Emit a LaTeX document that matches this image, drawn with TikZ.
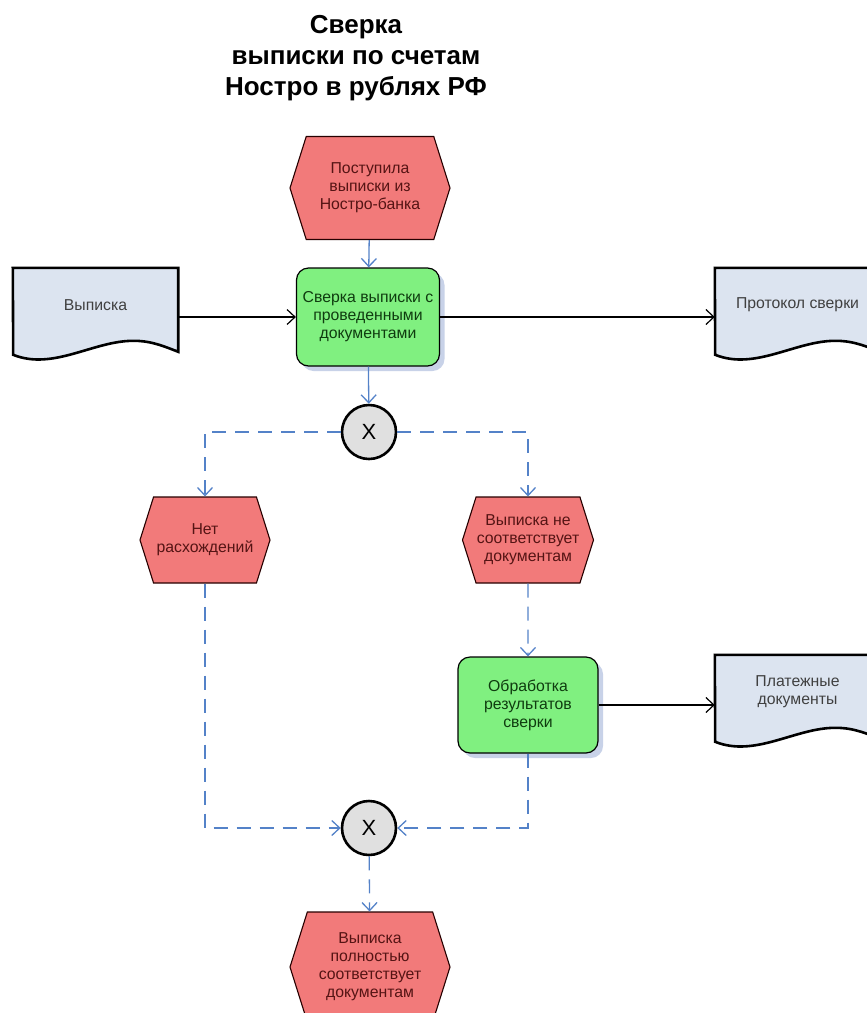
\documentclass[tikz,border=0pt]{standalone}
\usepackage{fontspec}
\setmainfont{Liberation Sans}
\usetikzlibrary{shapes.symbols,arrows.meta,shadows,backgrounds}
\definecolor{evfill}{RGB}{242,122,122}
\definecolor{evtext}{RGB}{85,20,20}
\definecolor{fnfill}{RGB}{128,240,128}
\definecolor{fntext}{RGB}{15,60,15}
\definecolor{docfill}{RGB}{220,228,240}
\definecolor{shadowblue}{RGB}{200,210,232}
\definecolor{flowblue}{RGB}{84,130,200}
\newcommand{\boxfont}{\fontsize{15.8}{18}\selectfont}

\begin{document}
\begin{tikzpicture}[x=1pt,y=-1pt,
  event/.style={signal,signal to=west and east,signal pointer angle=145,draw=black!85!red,
    line width=1.1pt,fill=evfill,text=evtext,align=center,font=\boxfont,inner sep=0pt},
  func/.style={rectangle,rounded corners=12pt,draw=black,line width=1.2pt,fill=fnfill,
    text=fntext,align=center,font=\boxfont,
    drop shadow={shadow xshift=5pt,shadow yshift=-5pt,fill=shadowblue,opacity=1}},
  doc/.style={rectangle,minimum width=165pt,minimum height=74pt,text=black!75,
    align=center,font=\boxfont},
  gate/.style={circle,draw=black,line width=2.6pt,fill=black!12,minimum size=54pt,
    inner sep=0pt,font=\fontsize{22}{22}\selectfont},
  ctrl/.style={draw=flowblue,line width=1.3pt,-{Straight Barb[length=8pt,width=15pt]}},
  ctrldash/.style={ctrl,dash pattern=on 14pt off 9pt},
  data/.style={draw=black,line width=1.2pt,-{Straight Barb[length=8pt,width=15pt]}}]
  \path[use as bounding box](0,0)rectangle(867,1013);
  \node[font=\bfseries\fontsize{26}{31}\selectfont,align=center](title)at(356,58)
    {Сверка\\выписки по счетам\\Ностро в рублях РФ};
  \node[event,minimum width=160pt,minimum height=103pt](ev1)at(370,188)
    {Поступила\\выписки из\\Ностро-банка};
  \node[func,minimum width=143pt,minimum height=98pt](sverka)at(368,317)
    {Сверка выписки с\\проведенными\\документами};
  \node[doc](vyp)at(95.5,305){Выписка};
  \node[doc](prot)at(797.5,305){Протокол сверки};
  \node[gate](x1)at(369,432){X};
  \node[event,minimum width=130pt,minimum height=86pt](ev2)at(205,540)
    {Нет\\расхождений};
  \node[event,minimum width=131pt,minimum height=86pt](ev3)at(528,540)
    {Выписка не\\соответствует\\документам};
  \node[func,minimum width=140pt,minimum height=96pt](obrab)at(528,705)
    {Обработка\\результатов\\сверки};
  \node[doc](plat)at(797.5,692){Платежные\\документы};
  \node[gate](x2)at(369,828){X};
  \node[event,minimum width=160pt,minimum height=110pt](ev4)at(370,967)
    {Выписка\\полностью\\соответствует\\документам};
  \begin{scope}[on background layer]
    \foreach\d in {vyp,prot,plat}
      \draw[line width=2.6pt,fill=docfill](\d.north west)--(\d.north east)--++(0,84)
        ..controls+(-20,-8)and+(15,0)..++(-45,-11)
        ..controls+(-40,0)and+(40,16)..++(-120,14)--cycle;
  \end{scope}
  \draw[ctrl](ev1)--(sverka);
  \draw[data](vyp.east|-sverka)--(sverka);
  \draw[data](sverka)--(prot.west|-sverka);
  \draw[ctrl](sverka)--(x1);
  \draw[ctrldash](x1)-|(ev2);
  \draw[ctrldash](x1)-|(ev3);
  \draw[ctrldash](ev3)--(obrab);
  \draw[data](obrab)--(plat.west|-obrab);
  \draw[ctrldash](ev2)|-(x2);
  \draw[ctrldash](obrab)|-(x2);
  \draw[ctrldash](x2)--(ev4);
\end{tikzpicture}
\end{document}
